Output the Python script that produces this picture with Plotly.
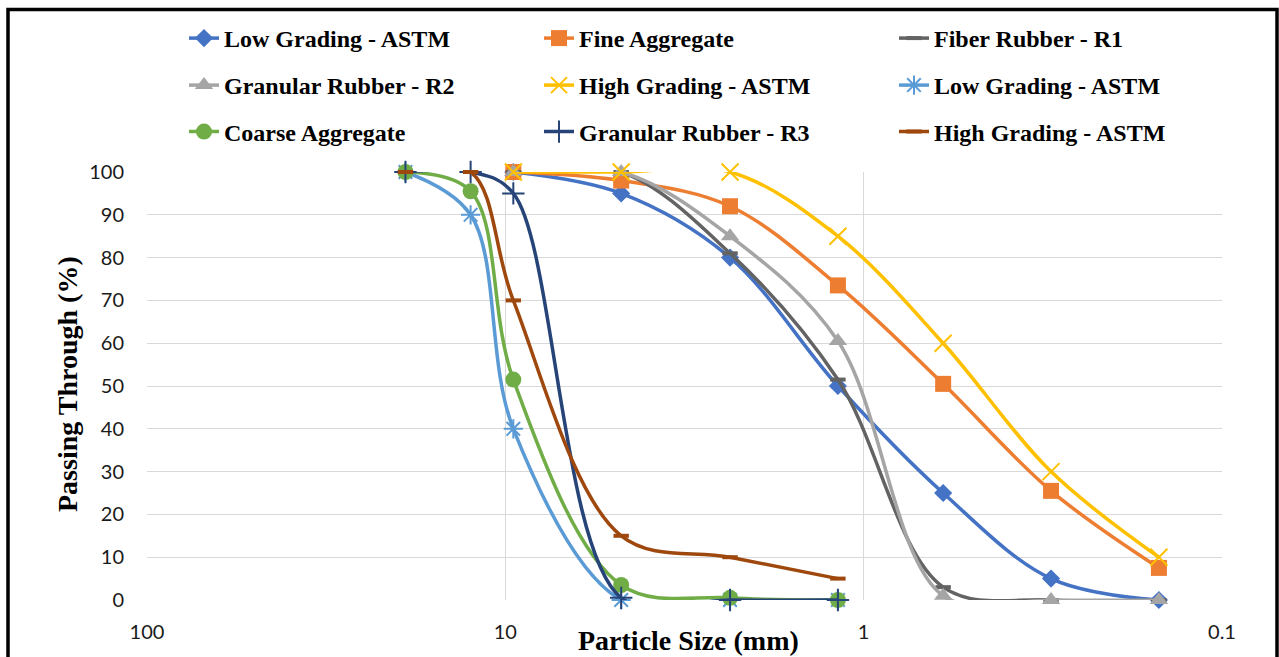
import plotly.graph_objects as go

# ---------------- data ----------------
fine_sieves = [9.5, 4.75, 2.36, 1.18, 0.6, 0.3, 0.15]
coarse_sieves = [19, 12.5, 9.5, 4.75, 2.36, 1.18]

low_grading_fine = [100, 95, 80, 50, 25, 5, 0]
fine_aggregate = [100, 98, 92, 73.5, 50.5, 25.5, 7.5]
fiber_rubber_r1 = [100, 100, 81, 51.5, 3, 0, 0]
granular_rubber_r2 = [100, 100, 85, 60.5, 1, 0, 0]
high_grading_fine = [100, 100, 100, 85, 60, 30, 10]

low_grading_coarse = [100, 90, 40, 0, 0, 0]
coarse_aggregate = [100, 95.5, 51.5, 3.5, 0.5, 0]
granular_rubber_r3 = [100, 100, 95, 0.5, 0, 0]
high_grading_coarse = [100, 100, 70, 15, 10, 5]

x_tick_vals = [100, 10, 1, 0.1]
x_tick_text = ["100", "10", "1", "0.1"]
y_tick_vals = list(range(0, 101, 10))

# ---------------- layout constants (pixels) ----------------
W, H = 1279, 657
PL, PR, PT, PB = 147, 1222, 172, 600
pw, ph = PR - PL, PB - PT


def px_x(p):
    return (p - PL) / pw


def px_y(p):
    return (PB - p) / ph


SERIF = "Liberation Serif"
LW = 3.5

series = [
    # name, x, y, color, symbol, size, open?, legend
    ("Low Grading - ASTM", fine_sieves, low_grading_fine, "#4472C4", "diamond", 14, False, "legend"),
    ("Fine Aggregate", fine_sieves, fine_aggregate, "#ED7D31", "square", 16, False, "legend"),
    ("Fiber Rubber - R1", fine_sieves, fiber_rubber_r1, "#636363", "line-ew-open", 11, True, "legend"),
    ("Granular Rubber - R2", fine_sieves, granular_rubber_r2, "#A5A5A5", "triangle-up", 16, False, "legend2"),
    ("High Grading - ASTM", fine_sieves, high_grading_fine, "#FFC000", "x-thin-open", 17, True, "legend2"),
    ("Low Grading - ASTM", coarse_sieves, low_grading_coarse, "#5B9BD5", "asterisk-open", 16, True, "legend2"),
    ("Coarse Aggregate", coarse_sieves, coarse_aggregate, "#70AD47", "circle", 16, False, "legend3"),
    ("Granular Rubber - R3", coarse_sieves, granular_rubber_r3, "#264478", "cross-thin-open", 16, True, "legend3"),
    ("High Grading - ASTM", coarse_sieves, high_grading_coarse, "#9E480E", "line-ew-open", 11, True, "legend3"),
]

fig = go.Figure()
for name, xs, ys, color, sym, size, is_open, leg in series:
    marker = dict(symbol=sym, size=size, color=color)
    if is_open:
        marker["line"] = dict(color=color, width=4 if sym.startswith("line") else 2)
    else:
        marker["line"] = dict(width=0)
    fig.add_trace(go.Scatter(
        x=xs, y=ys, name=name, mode="lines+markers",
        line=dict(color=color, width=LW, shape="spline", smoothing=1.0),
        marker=marker, cliponaxis=False, legend=leg,
    ))

leg_font = dict(family=SERIF, size=24, color="#000000", weight="bold")
leg_common = dict(orientation="h", xanchor="left", yanchor="middle",
                  x=px_x(184), entrywidth=310, entrywidthmode="pixels",
                  font=leg_font, bgcolor="rgba(0,0,0,0)", borderwidth=0,
                  itemclick=False, itemdoubleclick=False)

fig.update_layout(
    width=W, height=H,
    margin=dict(l=PL, r=W - PR, t=PT, b=H - PB, autoexpand=False),
    paper_bgcolor="white", plot_bgcolor="white",
    showlegend=True,
    legend=dict(y=px_y(38.5), **leg_common),
    legend2=dict(y=px_y(85.5), **leg_common),
    legend3=dict(y=px_y(132), **leg_common),
    xaxis=dict(
        type="log", range=[2, -1], tickvals=x_tick_vals, ticktext=x_tick_text,
        showgrid=True, gridcolor="#D9D9D9", gridwidth=1.3,
        zeroline=False, showline=False, ticks="",
        tickfont=dict(family="Lato", size=20, color="#1a1a1a"),
        ticklabelstandoff=18,
    ),
    yaxis=dict(
        range=[0, 100], tickvals=y_tick_vals,
        showgrid=True, gridcolor="#D9D9D9", gridwidth=1.3,
        zeroline=False, showline=False, ticks="",
        tickfont=dict(family="Lato", size=20, color="#1a1a1a"),
        ticklabelstandoff=22,
    ),
    annotations=[
        dict(text="Particle Size (mm)", xref="paper", yref="paper",
             x=px_x(688), y=px_y(640), xanchor="center", yanchor="middle",
             showarrow=False, font=dict(family=SERIF, size=28, color="#000000", weight="bold")),
        dict(text="Passing Through (%)", xref="paper", yref="paper",
             x=px_x(67), y=px_y(384), xanchor="center", yanchor="middle",
             textangle=-90, showarrow=False,
             font=dict(family=SERIF, size=28, color="#000000", weight="bold")),
    ],
    shapes=[
        dict(type="rect", xref="paper", yref="paper",
             x0=px_x(8), x1=px_x(1277), y0=px_y(670), y1=px_y(9.5),
             line=dict(color="#000000", width=3.5), fillcolor="rgba(0,0,0,0)", layer="above"),
    ],
)

fig.write_html("out.html", config={"displayModeBar": False},
               post_script="document.body.style.margin='0';")
